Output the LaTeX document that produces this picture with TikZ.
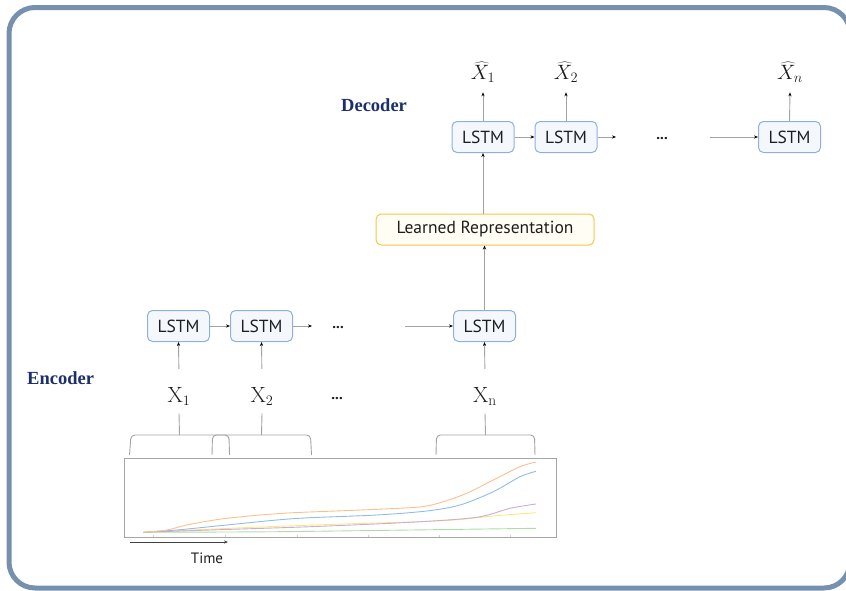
\documentclass[tikz,border=0pt]{standalone}
\usepackage{fontspec}
\usetikzlibrary{arrows.meta}
\newfontfamily\uisans{PT Sans}
\newfontfamily\headserif{Liberation Serif}
\definecolor{framecol}{HTML}{7790AE}
\definecolor{headcol}{HTML}{1C2F68}
\definecolor{boxline}{HTML}{8DB1DD}
\definecolor{boxfill}{HTML}{F4F8FC}
\definecolor{lrline}{HTML}{F3C84A}
\definecolor{lrfill}{HTML}{FFFDF4}
\definecolor{connline}{HTML}{A3A3A3}
\definecolor{txt}{HTML}{1E1E1E}
\definecolor{c-orange}{HTML}{FFBE8C}
\definecolor{c-blue}{HTML}{93BCE0}
\definecolor{c-purple}{HTML}{C9ADDC}
\definecolor{c-yellow}{HTML}{FFE580}
\definecolor{c-green}{HTML}{AEDEA6}
\tikzset{
  lstm/.style={draw=boxline, fill=boxfill, line width=1pt, rounded corners=5pt,
    minimum width=62pt, minimum height=31pt, inner sep=0pt,
    font=\uisans\fontsize{17.5}{20}\selectfont, text=txt},
  lrbox/.style={draw=lrline, fill=lrfill, line width=1pt, rounded corners=5pt,
    minimum width=218pt, minimum height=31pt, inner sep=0pt,
    font=\uisans\fontsize{17.5}{20}\selectfont, text=txt},
  conn/.style={draw=connline, line width=0.9pt,
    -{Stealth[length=4pt, width=3.2pt, color=black]}},
  gline/.style={draw=connline, line width=0.9pt},
  headlabel/.style={font=\headserif\bfseries\fontsize{18.5}{22}\selectfont, text=headcol,
    anchor=base west, inner sep=0pt},
  xlab/.style={font=\fontsize{22}{26}\selectfont, text=txt, anchor=base, inner xsep=0pt, inner ysep=8pt},
  hatlab/.style={font=\fontsize{22}{26}\selectfont, text=txt, anchor=base, inner xsep=0pt, inner ysep=10pt},
  dots/.style={font=\uisans\fontsize{15}{18}\selectfont\bfseries, text=txt, anchor=base, inner sep=0pt},
  curve/.style={line width=0.9pt, smooth, tension=0.5},
}
\begin{document}
\begin{tikzpicture}[x=1pt, y=-1pt]
\useasboundingbox (0,0) rectangle (846,590);
% outer frame
\draw[framecol, line width=5pt, rounded corners=26pt] (9,7.5) rectangle (850,588);

% section headings
\node[headlabel] (dechead) at (341,111) {Decoder};
\node[headlabel] (enchead) at (27,384) {Encoder};

% decoder
\node[lstm] (d1) at (483,137) {LSTM};
\node[lstm] (d2) at (566,137) {LSTM};
\node[lstm] (dn) at (789.5,137) {LSTM};
\node[hatlab] (h1) at (483,79) {$\widehat{X}_1$};
\node[hatlab] (h2) at (566,79) {$\widehat{X}_2$};
\node[hatlab] (hn) at (790,79) {$\widehat{X}_n$};
\node[dots] (ddots) at (662,139) {...};
\coordinate (d2out) at (616,137);
\coordinate (dnin) at (710,137);
\draw[conn] (d1.east) -- (d2.west);
\draw[conn] (d2.east) -- (d2out);
\draw[conn] (dnin) -- (dn.west);
\draw[conn] (d1.north) -- (h1.south);
\draw[conn] (d2.north) -- (h2.south);
\draw[conn] (dn.north) -- (hn.south);

% bottleneck
\node[lrbox] (lr) at (485,229.5) {Learned Representation};
\draw[conn] (lr.north -| d1.south) -- (d1.south);

% encoder
\node[lstm] (e1) at (178.5,326) {LSTM};
\node[lstm] (e2) at (261.5,326) {LSTM};
\node[lstm] (en) at (484.5,326) {LSTM};
\node[dots] (edots) at (338,328) {...};
\coordinate (e2out) at (312,326);
\coordinate (enin) at (405,326);
\draw[conn] (e1.east) -- (e2.west);
\draw[conn] (e2.east) -- (e2out);
\draw[conn] (enin) -- (en.west);
\draw[conn] (en.north) -- (en.north |- lr.south);

% inputs
\node[xlab] (x1) at (179,402) {$\mathrm{X}_1$};
\node[xlab] (x2) at (262,402) {$\mathrm{X}_2$};
\node[xlab] (xn) at (485,402) {$\mathrm{X}_\mathrm{n}$};
\node[dots] (xdots) at (337,399) {...};
\draw[conn, shorten <=10pt] (x1.north) -- (e1.south);
\draw[conn, shorten <=10pt] (x2.north) -- (e2.south);
\draw[conn, shorten <=10pt] (xn.north) -- (en.south);

% sliding windows over the series
\coordinate (w1) at (179.5,435);
\coordinate (w2) at (261.5,435);
\coordinate (wn) at (485.5,435);
\draw[gline, rounded corners=4pt] (129.5,455) -- (131,435) -- (229,435) -- (229.5,455);
\draw[gline, rounded corners=4pt] (212,455) -- (212.5,435) -- (310.5,435) -- (311.5,455);
\draw[gline, rounded corners=4pt] (436,455) -- (436.5,435) -- (534.5,435) -- (535,455);
\draw[gline] (w1) -- (x1.south);
\draw[gline] (w2) -- (x2.south);
\draw[gline] (wn) -- (xn.south);

% time-series chart
\draw[draw=black!35, line width=0.9pt] (124,458) rectangle (556,537);
\foreach \tx in {153,225,297,368,439,510}
  \draw[black!18, line width=0.6pt] (\tx,537) -- (\tx,534.5);
\draw[c-green, curve] plot coordinates {(143.3,532.3) (276.7,531.7) (410,530) (536,528.3)};
\draw[c-yellow, curve] plot coordinates {(143.3,532.3) (243.3,527.7) (343.3,524) (443.3,520.7) (493.3,516) (536,512.7)};
\draw[c-purple, curve] plot coordinates {(143.3,532.3) (210,530) (310,526.7) (410,522.3) (476.7,517.3) (510,508.3) (536,504)};
\draw[c-blue, curve] plot coordinates {(143.3,532.3) (176.7,530) (226.7,525) (276.7,520) (310,517.7) (376.7,515) (426.7,511) (460,505) (493.3,491.7) (520,476.7) (536,471.3)};
\draw[c-orange, curve] plot coordinates {(143.3,532.3) (166.7,530) (186.7,525) (210,520.7) (226.7,518.3) (260,515) (293.3,512.7) (343.3,510.7) (376.7,509.3) (410,507.7) (426.7,506) (443.3,501.7) (466.7,493.3) (493.3,480) (520,466.7) (536,462)};

% time axis
\coordinate (t0) at (130,542);
\coordinate (t1) at (228,542);
\draw[black!75, line width=0.8pt, -{Stealth[length=4pt, width=3.2pt]}] (t0) -- (t1);
\node[font=\uisans\fontsize{15}{18}\selectfont, text=txt] (time) at (207,558) {Time};
\end{tikzpicture}
\end{document}
